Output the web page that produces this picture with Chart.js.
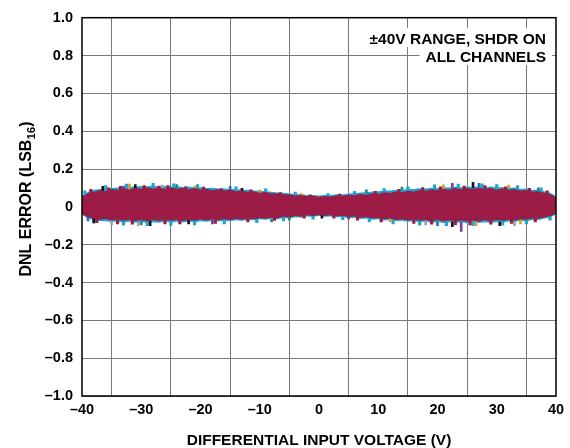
<!DOCTYPE html>
<html><head><meta charset="utf-8">
<script src="https://cdn.jsdelivr.net/npm/chart.js@4.4.1/dist/chart.umd.min.js"></script>
<style>html,body{margin:0;padding:0;background:#fff}#wrap{width:570px;height:448px}</style>
</head><body><div id="wrap"><canvas id="c" width="570" height="448"></canvas></div>
<script>
// ---- data ----
const volts = [-40,-39,-38,-37,-36,-35,-34,-33,-32,-31,-30,-29,-28,-27,-26,-25,-24,-23,-22,-21,-20,-19,-18,-17,-16,-15,-14,-13,-12,-11,-10,-9,-8,-7,-6,-5,-4,-3,-2,-1,0,1,2,3,4,5,6,7,8,9,10,11,12,13,14,15,16,17,18,19,20,21,22,23,24,25,26,27,28,29,30,31,32,33,34,35,36,37,38,39,40];
const crimsonHi = [0.055,0.072,0.080,0.088,0.083,0.094,0.089,0.098,0.092,0.101,0.096,0.104,0.097,0.102,0.095,0.103,0.096,0.100,0.093,0.099,0.092,0.096,0.088,0.093,0.086,0.090,0.083,0.086,0.079,0.082,0.075,0.078,0.070,0.072,0.065,0.067,0.060,0.062,0.056,0.059,0.054,0.058,0.055,0.061,0.058,0.064,0.061,0.068,0.064,0.072,0.069,0.077,0.073,0.081,0.077,0.085,0.081,0.089,0.085,0.093,0.088,0.096,0.091,0.099,0.093,0.100,0.094,0.101,0.095,0.099,0.092,0.097,0.090,0.094,0.086,0.089,0.081,0.083,0.074,0.068,0.052];
const crimsonLo = [-0.038,-0.055,-0.062,-0.068,-0.064,-0.072,-0.067,-0.074,-0.068,-0.075,-0.069,-0.076,-0.070,-0.075,-0.068,-0.074,-0.069,-0.075,-0.068,-0.073,-0.067,-0.072,-0.066,-0.071,-0.065,-0.070,-0.064,-0.068,-0.062,-0.066,-0.060,-0.063,-0.057,-0.060,-0.053,-0.056,-0.049,-0.052,-0.045,-0.048,-0.043,-0.047,-0.045,-0.050,-0.048,-0.054,-0.051,-0.058,-0.055,-0.062,-0.059,-0.066,-0.062,-0.069,-0.065,-0.072,-0.067,-0.074,-0.069,-0.076,-0.070,-0.077,-0.071,-0.078,-0.072,-0.078,-0.072,-0.077,-0.071,-0.076,-0.070,-0.074,-0.068,-0.072,-0.065,-0.068,-0.061,-0.063,-0.056,-0.050,-0.036];
const cyanHi = [0.060,0.078,0.090,0.094,0.096,0.100,0.102,0.103,0.106,0.107,0.110,0.109,0.111,0.108,0.110,0.107,0.109,0.105,0.107,0.102,0.104,0.100,0.101,0.097,0.097,0.094,0.094,0.090,0.090,0.086,0.085,0.082,0.080,0.076,0.074,0.071,0.068,0.066,0.063,0.062,0.060,0.062,0.063,0.066,0.067,0.071,0.072,0.076,0.077,0.081,0.082,0.086,0.086,0.090,0.090,0.094,0.094,0.098,0.097,0.101,0.100,0.104,0.102,0.106,0.104,0.108,0.105,0.109,0.104,0.108,0.102,0.105,0.099,0.102,0.095,0.097,0.090,0.091,0.083,0.075,0.057];
const cyanLo = [-0.042,-0.061,-0.070,-0.075,-0.076,-0.080,-0.077,-0.083,-0.079,-0.084,-0.080,-0.085,-0.081,-0.084,-0.079,-0.083,-0.079,-0.083,-0.078,-0.081,-0.076,-0.079,-0.075,-0.078,-0.073,-0.076,-0.071,-0.074,-0.069,-0.071,-0.066,-0.068,-0.063,-0.065,-0.059,-0.061,-0.055,-0.057,-0.051,-0.053,-0.049,-0.052,-0.051,-0.055,-0.054,-0.060,-0.058,-0.064,-0.062,-0.068,-0.066,-0.072,-0.070,-0.076,-0.073,-0.079,-0.076,-0.082,-0.078,-0.084,-0.080,-0.086,-0.081,-0.087,-0.082,-0.087,-0.082,-0.086,-0.081,-0.085,-0.080,-0.083,-0.077,-0.080,-0.074,-0.076,-0.069,-0.070,-0.063,-0.056,-0.040];
const crimsonSpikeX = [-38.5,-35.5,-33.5,-29.5,-27,-25.5,-22.5,-19.5,-16.5,-11.5,-6.5,-1.5,3.5,9.5,13.5,17.5,20.5,24.5,28,31.5,35.5,38.5,-37.5,-34,-31.5,-26,-23.5,-17.5,-12,-7.5,-2.5,2.5,6.5,10.5,16,19,23,25.5,29,32.5,36.5];
const crimsonSpikeY = [[0.07,0.092],[0.08,0.1],[0.09,0.108],[0.095,0.112],[0.095,0.11],[0.095,0.112],[0.09,0.106],[0.088,0.104],[0.08,0.097],[0.075,0.09],[0.06,0.075],[0.05,0.064],[0.055,0.068],[0.065,0.082],[0.075,0.092],[0.085,0.102],[0.09,0.106],[0.093,0.11],[0.095,0.112],[0.09,0.106],[0.082,0.098],[0.068,0.085],[-0.083,-0.062],[-0.09,-0.07],[-0.092,-0.07],[-0.09,-0.07],[-0.09,-0.07],[-0.087,-0.068],[-0.08,-0.062],[-0.072,-0.055],[-0.06,-0.045],[-0.06,-0.045],[-0.07,-0.052],[-0.08,-0.062],[-0.088,-0.068],[-0.092,-0.07],[-0.095,-0.072],[-0.095,-0.072],[-0.092,-0.07],[-0.088,-0.068],[-0.08,-0.06]];
const cyanSpikeX = [-39.5,-36,-32.5,-28,-24.5,-20.5,-14,-9,-4,1.5,6,11,15,19.5,23.5,27.5,30,33.5,37.5,-38,-33,-29,-25,-21,-16,-10.5,-6,-1,4,8.5,12.5,17,21.5,26,31,35,39];
const cyanSpikeY = [[0.06,0.085],[0.09,0.112],[0.1,0.12],[0.105,0.124],[0.105,0.122],[0.1,0.118],[0.09,0.106],[0.08,0.095],[0.065,0.078],[0.058,0.07],[0.068,0.082],[0.082,0.097],[0.09,0.106],[0.1,0.116],[0.105,0.121],[0.105,0.122],[0.1,0.118],[0.095,0.112],[0.08,0.1],[-0.085,-0.065],[-0.097,-0.078],[-0.1,-0.08],[-0.098,-0.078],[-0.095,-0.075],[-0.09,-0.072],[-0.083,-0.065],[-0.075,-0.058],[-0.065,-0.05],[-0.068,-0.052],[-0.08,-0.062],[-0.09,-0.07],[-0.097,-0.076],[-0.1,-0.08],[-0.1,-0.08],[-0.097,-0.078],[-0.09,-0.07],[-0.07,-0.05]];
const blackX = [-36.5,-31,-28.5,-13,-38,26,22.5,30.5,0.5,-22];
const blackY = [[0.085,0.108],[0.095,0.118],[-0.10,-0.075],[0.08,0.098],[-0.085,-0.06],[0.1,0.13],[-0.105,-0.08],[-0.1,-0.08],[-0.06,-0.045],[-0.09,-0.07]];
const goldX = [-32,-21,-10,12,21,26.5,34,32,-3];
const goldY = [[0.095,0.12],[0.09,0.11],[0.07,0.09],[-0.08,-0.06],[0.095,0.117],[-0.1,-0.08],[-0.09,-0.07],[0.1,0.115],[0.06,0.072]];
const grayX = [-35,18,33,-26.5,-30.5];
const grayY = [[-0.095,-0.075],[-0.095,-0.075],[-0.1,-0.08],[0.1,0.115],[-0.1,-0.08]];
const purpleX = [24,22.5,-33,-18,5];
const purpleY = [[-0.13,-0.08],[0.1,0.125],[0.09,0.11],[-0.09,-0.07],[-0.065,-0.05]];
const tealX = [-30,-24,-8,14,37,-5,8];
const tealY = [[-0.095,-0.075],[0.1,0.118],[-0.08,-0.065],[0.09,0.105],[0.085,0.1],[-0.07,-0.055],[0.075,0.09]];
const blueX = [-39,27,20,-15];
const blueY = [[-0.075,-0.055],[0.105,0.125],[-0.1,-0.08],[0.09,0.108]];
const xTicks = [-40,-30,-20,-10,0,10,20,30,40];
const yTicks = [-1.0,-0.8,-0.6,-0.4,-0.2,0,0.2,0.4,0.6,0.8,1.0];
const noteLines = ['±40V RANGE, SHDR ON','ALL CHANNELS'];
const xTitle = 'DIFFERENTIAL INPUT VOLTAGE (V)';
const yTitle = ['DNL ERROR (LSB','16',')'];

// ---- build ----
const pts = arr => volts.map((v,i)=>({x:v,y:arr[i]}));
const bars = (xs,ys) => xs.map((v,i)=>({x:v,y:ys[i]}));
const FONT = '"Liberation Sans", Arial, Helvetica, sans-serif';
const fmt = v => Math.abs(v)<1e-9 ? '0' : (v<0?'\u2013':'')+Math.abs(v).toFixed(1);
const fmtX = v => v===0?'0':(v<0?'\u2013':'')+Math.abs(v);

const spike = (xs,ys,col,ord,th) => ({type:'bar',data:bars(xs,ys),backgroundColor:col,barThickness:th||2,grouped:false,order:ord});

const deco = {
  id:'deco',
  afterDatasetsDraw(chart){
    const ctx = chart.ctx, a = chart.chartArea;
    ctx.save();
    ctx.font = 'bold 15.5px '+FONT;
    ctx.textAlign='right'; ctx.textBaseline='alphabetic';
    const rx = 546; const ys=[44,62];
    noteLines.forEach((t,i)=>{
      const w = ctx.measureText(t).width;
      ctx.fillStyle='#fff';
      ctx.fillRect(rx-w-6, ys[i]-16, w+12, 19);
    });
    ctx.fillStyle='#000';
    noteLines.forEach((t,i)=>ctx.fillText(t,rx,ys[i]));
    ctx.strokeStyle='#000'; ctx.lineWidth=1.5;
    ctx.strokeRect(a.left, a.top, a.right-a.left, a.bottom-a.top);
    ctx.font='bold 15.5px '+FONT; ctx.textAlign='center';
    ctx.fillText(xTitle, 319, 445);
    ctx.translate(31, 199); ctx.rotate(-Math.PI/2);
    const F1='bold 16px '+FONT, F2='bold 11.5px '+FONT;
    ctx.font=F1; const w1=ctx.measureText(yTitle[0]).width, w3=ctx.measureText(yTitle[2]).width;
    ctx.font=F2; const w2=ctx.measureText(yTitle[1]).width;
    let x0 = -(w1+w2+w3)/2;
    ctx.textAlign='left';
    ctx.font=F1; ctx.fillText(yTitle[0], x0, 0);
    ctx.font=F2; ctx.fillText(yTitle[1], x0+w1, 4);
    ctx.font=F1; ctx.fillText(yTitle[2], x0+w1+w2, 0);
    ctx.restore();
  }
};

new Chart(document.getElementById('c'), {
  type:'bar',
  data:{datasets:[
    {type:'line',data:pts(crimsonHi),borderWidth:0,pointRadius:0,fill:'+1',backgroundColor:'#9c1c45',borderColor:'#9c1c45',tension:0,order:0},
    {type:'line',data:pts(crimsonLo),borderWidth:0,pointRadius:0,fill:false,borderColor:'#9c1c45',tension:0,order:1},
    spike(crimsonSpikeX,crimsonSpikeY,'#9c1c45',1,2.5),
    spike(blackX,blackY,'#151515',2),
    spike(goldX,goldY,'#c9a227',2),
    spike(grayX,grayY,'#a3a3a3',2),
    spike(purpleX,purpleY,'#7a3d9e',2),
    spike(tealX,tealY,'#168a8a',2),
    spike(blueX,blueY,'#2b6cc4',2),
    spike(cyanSpikeX,cyanSpikeY,'#1fa3cf',3,2.5),
    {type:'line',data:pts(cyanHi),borderWidth:0,pointRadius:0,fill:'+1',backgroundColor:'#1fa3cf',borderColor:'#1fa3cf',tension:0,order:5},
    {type:'line',data:pts(cyanLo),borderWidth:0,pointRadius:0,fill:false,borderColor:'#1fa3cf',tension:0,order:6}
  ]},
  options:{
    responsive:false, animation:false, devicePixelRatio:1,
    layout:{padding:{left:0,top:17,right:14,bottom:0}},
    plugins:{legend:{display:false},tooltip:{enabled:false}},
    scales:{
      x:{type:'linear',min:-40,max:40,offset:false,
        afterBuildTicks:s=>{s.ticks=xTicks.map(v=>({value:v}));},
        afterFit:s=>{s.height=52;},
        grid:{color:'#7a7a7a',lineWidth:1,drawTicks:false},border:{display:false},
        ticks:{padding:5,color:'#000',font:{family:FONT,size:14.5,weight:'bold'},callback:v=>fmtX(v),maxRotation:0,autoSkip:false}},
      y:{type:'linear',min:-1,max:1,
        afterBuildTicks:s=>{s.ticks=yTicks.map(v=>({value:v}));},
        afterFit:s=>{s.width=82;},
        grid:{color:'#7a7a7a',lineWidth:1,drawTicks:false},border:{display:false},
        ticks:{padding:9,color:'#000',font:{family:FONT,size:14.5,weight:'bold'},callback:v=>fmt(v),autoSkip:false}}
    }
  },
  plugins:[deco]
});
</script></body></html>
